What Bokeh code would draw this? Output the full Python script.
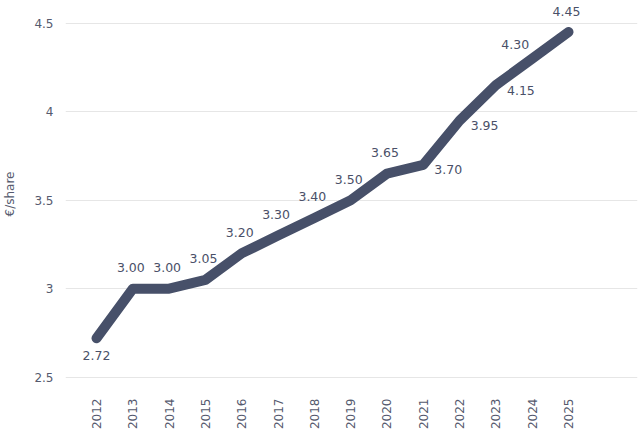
from bokeh.plotting import figure
from bokeh.models import ColumnDataSource, FixedTicker, Range1d
from bokeh.core.properties import value
from bokeh.embed import file_html
from bokeh.resources import INLINE
import math

years = [2012, 2013, 2014, 2015, 2016, 2017, 2018, 2019, 2020, 2021, 2022, 2023, 2024, 2025]
dividend = [2.72, 3.00, 3.00, 3.05, 3.20, 3.30, 3.40, 3.50, 3.65, 3.70, 3.95, 4.15, 4.30, 4.45]
y_ticks = [2.5, 3, 3.5, 4, 4.5]
y_tick_labels = {2.5: "2.5", 3: "3", 3.5: "3.5", 4: "4", 4.5: "4.5"}
y_title = "€/share"

# label placement (style): below / above / right
placement = ["below", "above", "above", "above", "above", "above", "above", "above",
             "above", "right", "right", "right", "aboveleft", "above"]
offs = {"below": (0, -17), "above": (-2, 21), "right": (25, -5), "aboveleft": (-17, 14)}

LINE = "#475069"
TEXT = "#4a5068"
FONT = "DejaVu Sans"

p = figure(width=640, height=442, output_backend="svg", toolbar_location=None,
           x_range=Range1d(2011.146, 2026.9), y_range=Range1d(2.47, 4.6),
           min_border_left=0, min_border_right=3, min_border_top=5, min_border_bottom=60)
p.outline_line_color = None
p.background_fill_color = "white"

p.line(years, dividend, line_width=10, line_color=LINE, line_join="round", line_cap="round")

src = ColumnDataSource(dict(
    x=years, y=dividend, t=["%.2f" % v for v in dividend],
    xo=[offs[k][0] for k in placement], yo=[-offs[k][1] for k in placement]))
p.text(x="x", y="y", text="t", source=src, x_offset="xo", y_offset="yo",
       text_align="center", text_baseline="middle", text_color=TEXT,
       text_font=value(FONT), text_font_size="12.5px")

p.xgrid.grid_line_color = None
p.ygrid.grid_line_color = "#e6e6e6"
p.ygrid.grid_line_width = 1
p.ygrid.ticker = FixedTicker(ticks=y_ticks)

p.yaxis.ticker = FixedTicker(ticks=y_ticks)
p.yaxis.major_label_overrides = y_tick_labels
p.yaxis.axis_line_color = None
p.yaxis.major_tick_line_color = None
p.yaxis.minor_tick_line_color = None
p.yaxis.major_tick_in = 0
p.yaxis.major_tick_out = 0
p.yaxis.major_label_text_font = FONT
p.yaxis.major_label_text_font_size = "12px"
p.yaxis.major_label_text_color = "#555a6e"
p.yaxis.major_label_standoff = 12
p.yaxis.axis_label = y_title
p.yaxis.axis_label_text_font = FONT
p.yaxis.axis_label_text_font_style = "normal"
p.yaxis.axis_label_text_font_size = "12px"
p.yaxis.axis_label_text_color = "#555a6e"
p.yaxis.axis_label_standoff = 14

p.xaxis.ticker = FixedTicker(ticks=years)
p.xaxis.axis_line_color = None
p.xaxis.major_tick_line_color = None
p.xaxis.minor_tick_line_color = None
p.xaxis.major_tick_in = 0
p.xaxis.major_tick_out = 0
p.xaxis.major_label_orientation = math.pi / 2
p.xaxis.major_label_text_font = FONT
p.xaxis.major_label_text_font_size = "12px"
p.xaxis.major_label_text_color = "#555a6e"
p.xaxis.major_label_standoff = 16

open("out.html", "w").write(file_html(p, INLINE))
